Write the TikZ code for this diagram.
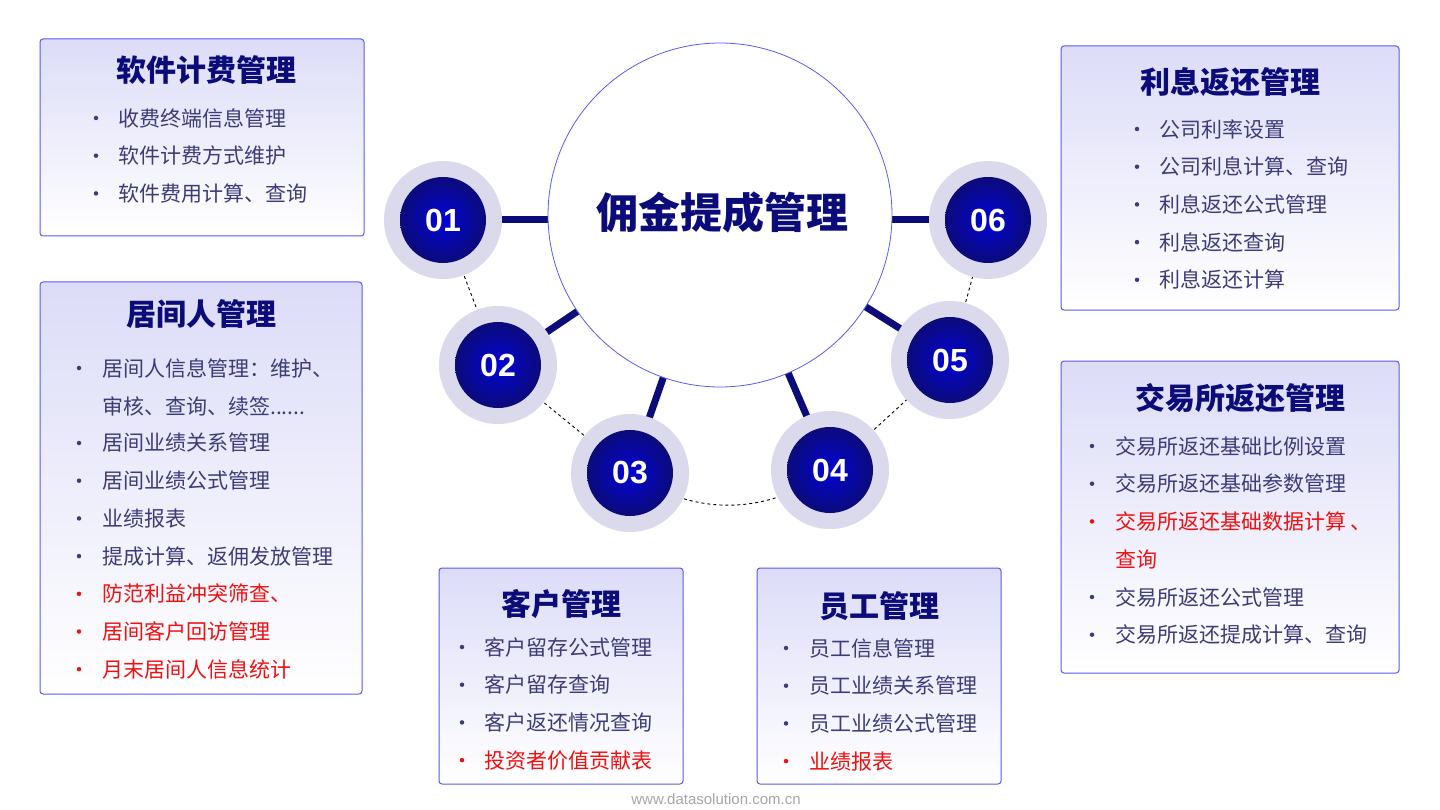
\documentclass[tikz,border=0pt]{standalone}
\usepackage{fontspec}
\setmainfont{Noto Sans CJK SC}
\newfontfamily\numfont{Liberation Sans}
\usetikzlibrary{calc,positioning}
\definecolor{navy}{HTML}{0B0B7A}
\definecolor{n}{HTML}{3C3C78}
\definecolor{r}{HTML}{F01010}
\definecolor{edge}{HTML}{5A5AF0}
\definecolor{lav}{HTML}{DCDCF8}
\definecolor{ringc}{HTML}{DADAEC}

\tikzset{
  card/.style={draw=edge, line width=1pt, rounded corners=3pt, top color=lav, bottom color=white},
  cardtitle/.style={font=\fontsize{30}{32}\selectfont\bfseries, text=navy},
  item/.style={anchor=west, font=\fontsize{21}{24}\selectfont, inner sep=0pt},
  dot/.style={circle, inner sep=0pt, minimum size=4.5pt},
  ring/.style={circle, fill=ringc, minimum size=118pt, inner sep=0pt},
  num/.style={circle, inner color=blue!70!navy, outer color=navy, minimum size=86pt,
    text=white, font=\numfont\fontsize{32}{34}\selectfont\bfseries, inner sep=0pt},
  link/.style={navy, line width=7pt},
  dashlink/.style={dashed, black, line width=0.9pt}
}
% one bulleted list: bullet x, text x, first y, entries colour/text
\newcommand{\bulletlist}[4]{%
  \foreach \c/\t [count=\i from 0] in {#4} {
    \node[dot, fill=\c] at (#1,{#3+37.7*\i}) {};
    \node[item, text=\c] at (#2,{#3+37.7*\i}) {\t};
  }}

\begin{document}
\begin{tikzpicture}[x=1pt,y=-1pt]
\useasboundingbox (0,0) rectangle (1440,810);
\fill[white] (0,0) rectangle (1440,810);

% connectors to the centre
\coordinate (mid) at (720,215);
\foreach \p/\x/\y in {1/443/220,2/498/365,3/630/473,4/830/470,5/950/360,6/988/220}
  \coordinate (p\p) at (\x,\y);
\draw[link] (p1) -- (720,220);
\draw[link] (p6) -- (720,220);
\foreach \p in {2,...,5} \draw[link] (mid) -- (p\p);

% dashed ring path
\draw[dashlink] (p1) -- (p2);
\draw[dashlink] (p2) -- (p3);
\draw[dashlink] (p3) to[bend right=35] (p4);
\draw[dashlink] (p4) -- (p5);
\draw[dashlink] (p5) -- (p6);

% centre circle
\node[circle, fill=white, draw=edge, line width=0.8pt, minimum size=344pt] (hub) at (mid) {};
\node[text=navy, font=\fontsize{42}{44}\selectfont\bfseries] (hubtext) at (722,212) {佣金提成管理};

% numbered discs
\foreach \p in {1,...,6} {
  \node[ring] (r\p) at (p\p) {};
  \node[num] (n\p) at (p\p) {0\p};
}

% software billing
\node[card, minimum width=324pt, minimum height=197pt] (soft) at (202,137.5) {};
\node[cardtitle] (softt) at (206,70) {软件计费管理};
\bulletlist{96}{118}{118}{n/收费终端信息管理,n/软件计费方式维护,n/软件费用计算、查询}

% broker
\node[card, minimum width=322pt, minimum height=412pt] (broker) at (201,488) {};
\node[cardtitle] (brokert) at (201,314) {居间人管理};
\node[item, text=n] (brokerx) at (102,406) {审核、查询、续签......};
\node[dot, fill=n] at (79,368) {};
\node[item, text=n] at (102,368) {居间人信息管理：维护、};
\bulletlist{79}{102}{443}{n/居间业绩关系管理,n/居间业绩公式管理,n/业绩报表,n/提成计算、返佣发放管理,r/防范利益冲突筛查、,r/居间客户回访管理,r/月末居间人信息统计}

% customer
\node[card, minimum width=244pt, minimum height=216pt] (cust) at (561,676) {};
\node[cardtitle] (custt) at (561,604) {客户管理};
\bulletlist{462}{484}{647}{n/客户留存公式管理,n/客户留存查询,n/客户返还情况查询,r/投资者价值贡献表}

% staff
\node[card, minimum width=244pt, minimum height=216pt] (staff) at (879,676) {};
\node[cardtitle] (stafft) at (879,606) {员工管理};
\bulletlist{786}{809}{648}{n/员工信息管理,n/员工业绩关系管理,n/员工业绩公式管理,r/业绩报表}

% interest
\node[card, minimum width=338pt, minimum height=264pt] (inter) at (1230,178) {};
\node[cardtitle] (intert) at (1230,82) {利息返还管理};
\bulletlist{1137}{1159}{129}{n/公司利率设置,n/公司利息计算、查询,n/利息返还公式管理,n/利息返还查询,n/利息返还计算}

% exchange
\node[card, minimum width=338pt, minimum height=312pt] (exch) at (1230,517) {};
\node[cardtitle] (excht) at (1240,398) {交易所返还管理};
\bulletlist{1092}{1115}{446}{n/交易所返还基础比例设置,n/交易所返还基础参数管理,r/交易所返还基础数据计算 、}
\node[item, text=r] (exchx) at (1115,559) {查询};
\bulletlist{1092}{1115}{597}{n/交易所返还公式管理,n/交易所返还提成计算、查询}

\node[text=black!35, font=\numfont\fontsize{15}{16}\selectfont] (site) at (716,799) {www.datasolution.com.cn};
\end{tikzpicture}
\end{document}
